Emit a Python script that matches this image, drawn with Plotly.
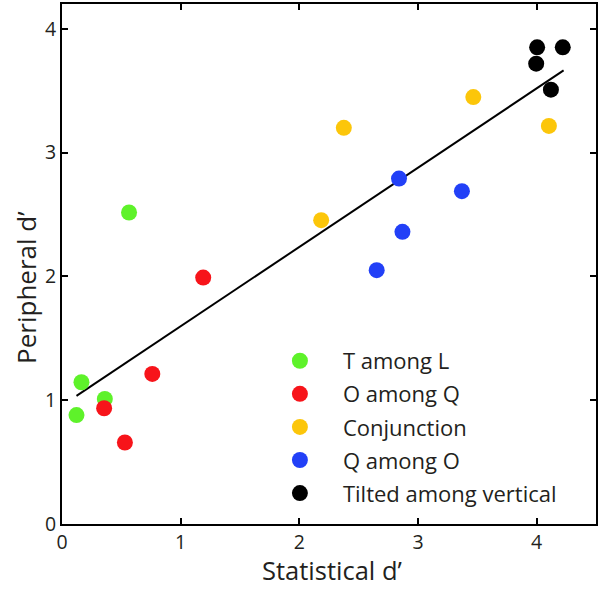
import plotly.graph_objects as go

# Data
series_names = ["T among L", "O among Q", "Conjunction", "Q among O", "Tilted among vertical"]
series_colors = ["#5ef22a", "#f7141a", "#fcc60a", "#2240f7", "#000000"]

t_among_l_x = [0.565, 0.164, 0.361, 0.122]
t_among_l_y = [2.516, 1.145, 1.01, 0.88]

o_among_q_x = [1.19, 0.761, 0.355, 0.53]
o_among_q_y = [1.99, 1.212, 0.935, 0.658]

conjunction_x = [2.375, 2.184, 3.466, 4.103]
conjunction_y = [3.20, 2.454, 3.448, 3.215]

q_among_o_x = [2.84, 2.869, 2.652, 3.37]
q_among_o_y = [2.79, 2.36, 2.05, 2.688]

tilted_x = [4.004, 4.22, 3.996, 4.12]
tilted_y = [3.85, 3.85, 3.718, 3.508]

fit_x = [0.122, 4.227]
fit_y = [1.035, 3.664]

x_ticks = [0, 1, 2, 3, 4]
y_ticks = [0, 1, 2, 3, 4]

x_title = "Statistical d’"
y_title = "Peripheral d’"

FONT = "Open Sans"
TXT = "#231f20"

fig = go.Figure()

fig.add_trace(go.Scatter(x=fit_x, y=fit_y, mode="lines",
                         line=dict(color="black", width=2),
                         showlegend=False, hoverinfo="skip"))

all_x = [t_among_l_x, o_among_q_x, conjunction_x, q_among_o_x, tilted_x]
all_y = [t_among_l_y, o_among_q_y, conjunction_y, q_among_o_y, tilted_y]
for i, (name, col, xs, ys) in enumerate(zip(series_names, series_colors, all_x, all_y)):
    fig.add_trace(go.Scatter(x=xs, y=ys, mode="markers", name=name,
                             legendgroup=f"g{i}",
                             marker=dict(color=col, size=16, line=dict(width=0))))

axis_common = dict(showgrid=False, zeroline=False, showline=True, linecolor="black",
                   linewidth=2, ticks="inside", ticklen=6, tickwidth=2, tickcolor="black",
                   mirror="ticks", automargin=False,
                   tickfont=dict(family=FONT, size=19.5, color=TXT))

fig.update_layout(
    width=600, height=590,
    margin=dict(l=62, r=4, t=4, b=66),
    paper_bgcolor="white", plot_bgcolor="white",
    font=dict(family=FONT, color=TXT),
    xaxis=dict(range=[0, 4.5], tickvals=x_ticks, **axis_common),
    yaxis=dict(range=[0, 4.2], tickvals=y_ticks, **axis_common),
    legend=dict(x=0.365, y=0.354, xanchor="left", yanchor="top",
                bgcolor="rgba(0,0,0,0)", borderwidth=0,
                font=dict(family=FONT, size=22, color=TXT),
                traceorder="grouped", tracegroupgap=1.5, itemwidth=76),
    annotations=[
        dict(text=x_title, xref="paper", yref="paper", x=0.5, y=-0.1255,
             xshift=3, xanchor="center", yanchor="bottom", showarrow=False,
             font=dict(family=FONT, size=25.5, color=TXT)),
        dict(text=y_title, xref="paper", yref="paper", x=0, y=0.454,
             xshift=-36, xanchor="center", yanchor="middle", showarrow=False,
             textangle=-90, font=dict(family=FONT, size=26, color=TXT)),
    ],
)

fig.write_html("out.html", config={"displayModeBar": False},
               post_script="document.body.style.margin='0';")
